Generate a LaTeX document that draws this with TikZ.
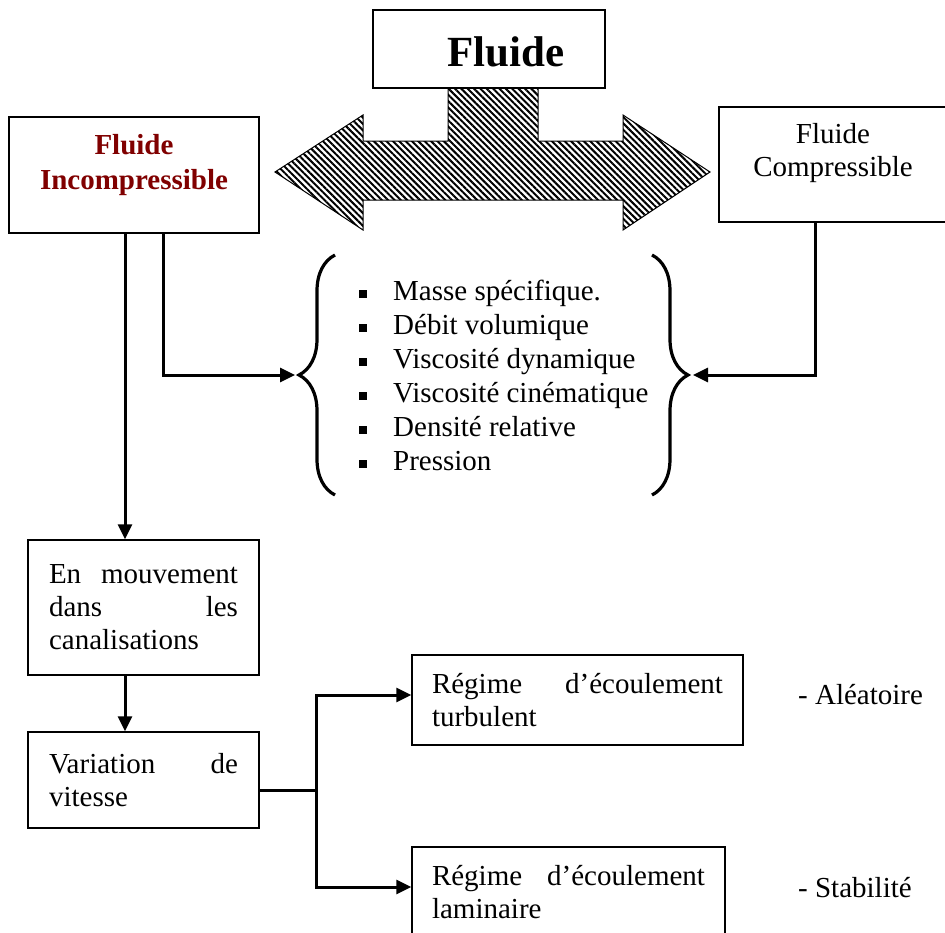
\documentclass[tikz,border=0pt]{standalone}
\usepackage{fontspec}
\setmainfont{Liberation Serif}
\usetikzlibrary{arrows.meta,patterns.meta,decorations.pathreplacing}
\definecolor{rougefonce}{RGB}{128,0,0}
\newcommand{\puce}{\makebox[34pt][l]{\raisebox{2.5pt}{\rule{8pt}{8pt}}}}

\tikzset{
  cadre/.style={draw, line width=1.5pt, fill=white, inner sep=0pt},
  texte/.style={font=\fontsize{29}{33}\selectfont},
  gras/.style={font=\fontsize{29}{35}\selectfont\bfseries, text=rougefonce, align=center},
  titre/.style={font=\fontsize{43}{48}\selectfont\bfseries},
  fleche/.style={line width=3pt, -{Triangle[length=15pt,width=14pt]}},
  lien/.style={line width=3pt},
  accolade/.style={line width=3.2pt, decorate, decoration={brace, amplitude=36pt}}
}

\begin{document}
\begin{tikzpicture}[x=1pt, y=-1pt]
\useasboundingbox (0,0) rectangle (945,932);
\clip (0,0) rectangle (945,932);

% fleche double hachuree
\draw [line width=1pt, pattern={Lines[angle=-45,distance=4.5pt,line width=2pt]}]
  (448,88) -- (448,141) -- (363,141) -- (363,115) -- (275,172) -- (363,230) -- (363,200)
  -- (623,200) -- (623,230) -- (710,172) -- (623,115) -- (623,141) -- (538,141) -- (538,88) -- cycle;

% cadres du haut
\node [cadre, minimum width=232pt, minimum height=78pt,
  label={[titre, xshift=17pt, yshift=-3pt]center:Fluide}] (fluide) at (489,49) {};
\node [cadre, minimum width=250pt, minimum height=116pt,
  label={[gras, yshift=10pt]center:{Fluide\\Incompressible}}] (incomp) at (134,175) {};
\node [cadre, minimum width=228pt, minimum height=115pt,
  label={[texte, align=center, yshift=11pt]center:{Fluide\\Compressible}}] (comp) at (833,164.5) {};

% accolades et proprietes
\draw [accolade] (335,495) -- (335,255);
\draw [accolade] (652,255) -- (652,495);
\coordinate (gauche) at (295,375);
\coordinate (droite) at (693,375);
\node [texte, font=\fontsize{29}{34}\selectfont, align=left, anchor=west, inner sep=0pt] (proprietes) at (359,375)
  {\puce Masse spécifique.\\ \puce Débit volumique\\ \puce Viscosité dynamique\\
   \puce Viscosité cinématique\\ \puce Densité relative\\ \puce Pression};

% cadres du bas
\node [cadre, texte, text width=189pt, inner xsep=21pt, minimum height=135pt, align=left] (mouv) at (143.5,607.5)
  {En\hfill mouvement\\ dans\hfill les\\ canalisations};
\node [cadre, texte, text width=189pt, inner xsep=21pt, minimum height=96pt, align=left] (var) at (143.5,780)
  {Variation\hfill de\\ vitesse};
\node [cadre, texte, text width=291pt, inner xsep=20pt, minimum height=90pt, align=left] (turb) at (577.5,700)
  {Régime\hfill d’écoulement\\ turbulent};
\node [cadre, texte, text width=273pt, inner xsep=20pt, minimum height=90pt, align=left] (lam) at (568.5,892)
  {Régime\hfill d’écoulement\\ laminaire};
\node [texte, anchor=west, inner sep=0pt] (aleatoire) at (798,695) {- Aléatoire};
\node [texte, anchor=west, inner sep=0pt] (stabilite) at (798,888) {- Stabilité};

% liaisons
\draw [fleche] ([xshift=-9pt]incomp.south) -- ([xshift=-18.5pt]mouv.north);
\draw [fleche] ([xshift=29pt]incomp.south) |- (gauche);
\draw [fleche] ([xshift=-18pt]comp.south) |- (droite);
\draw [fleche] ([xshift=-18.5pt]mouv.south) -- ([xshift=-18.5pt]var.north);
\coordinate (noeud) at (316,790);
\draw [lien] ([yshift=-10pt]var.east) -- (noeud);
\draw [fleche] (noeud) |- ([yshift=5pt]turb.west);
\draw [fleche] (noeud) |- ([yshift=5pt]lam.west);
\end{tikzpicture}
\end{document}
